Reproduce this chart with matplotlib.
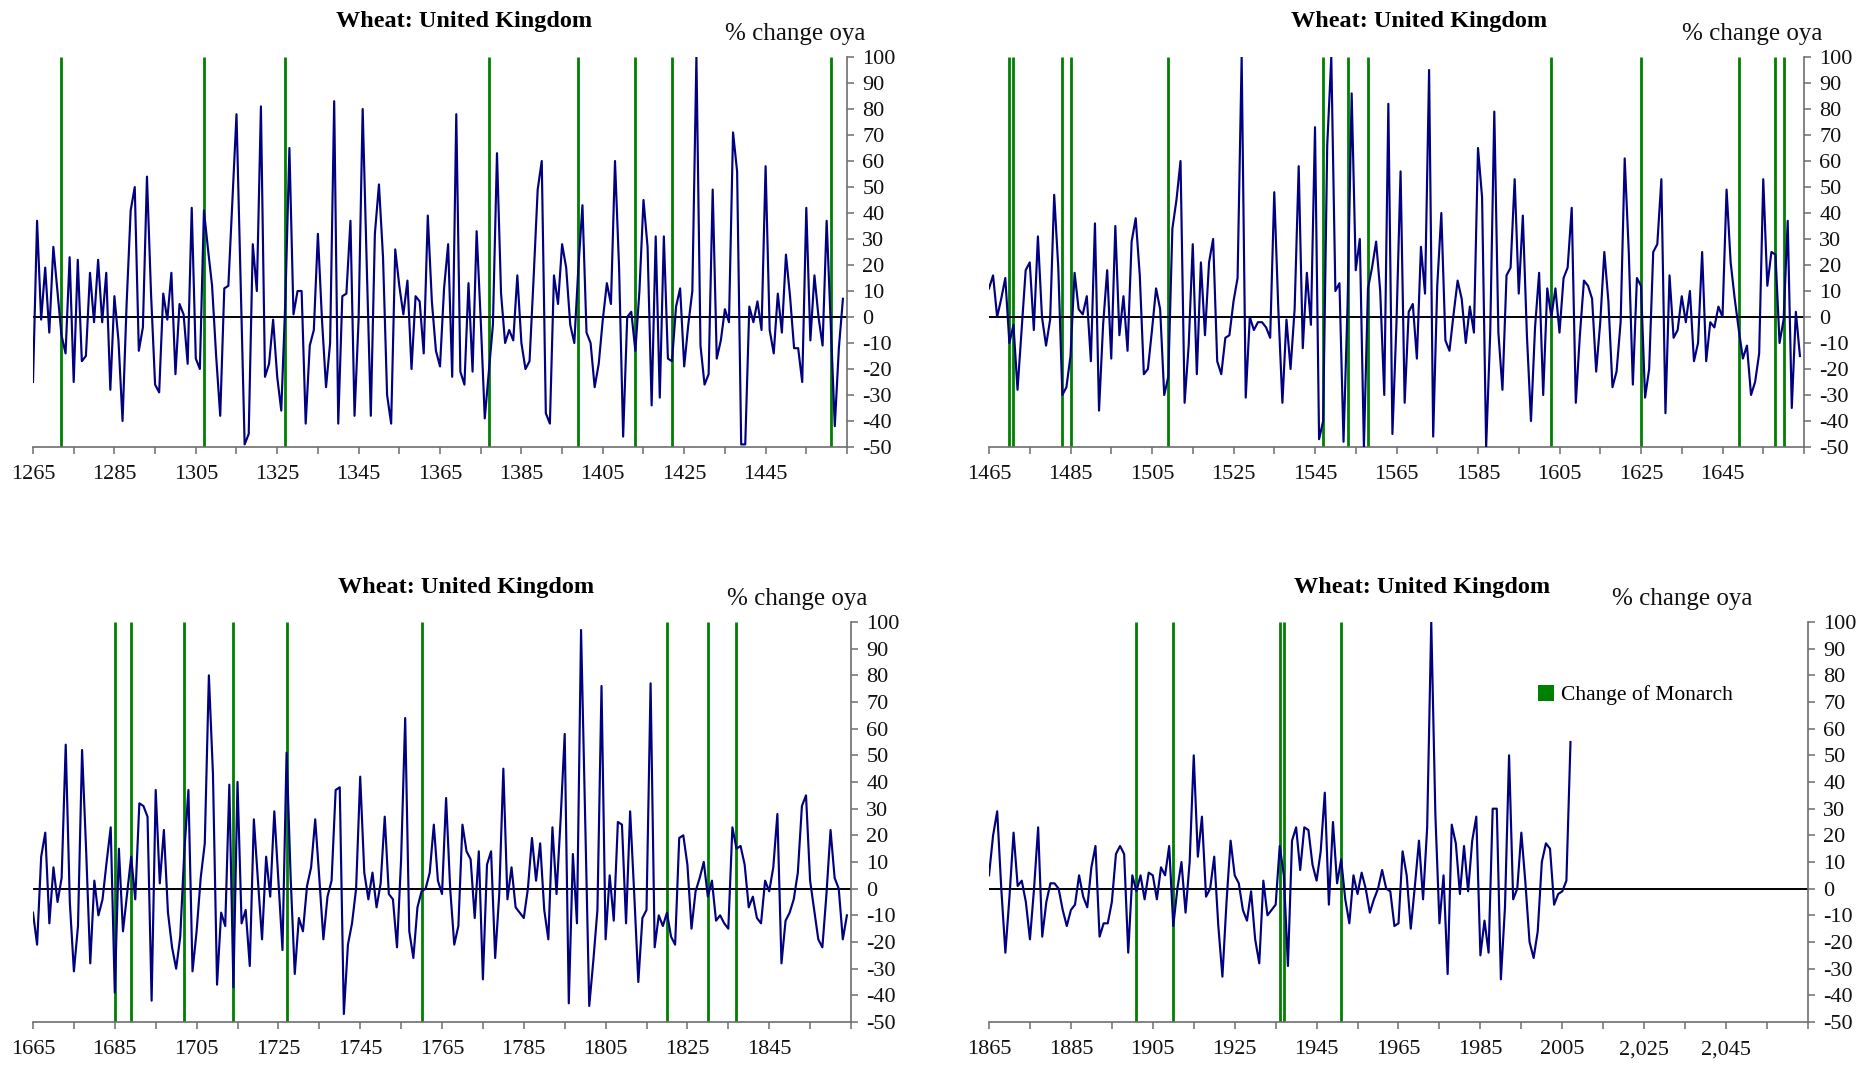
import numpy as np
import matplotlib.pyplot as plt
from matplotlib.patches import Patch

plt.rcParams['font.family'] = ['Liberation Serif', 'DejaVu Serif']
plt.rcParams['axes.unicode_minus'] = False

# wheat price, % change over year ago, one value per year
start1 = 1265
pct1 = [-25, 37, -1, 19, -6, 27, 10, -7, -14, 23, -25, 22, -17, -15, 17, -2, 22, -2, 17, -28,
        8, -9, -40, 5, 41, 50, -13, -4, 54, 9, -26, -29, 9, -1, 17, -22, 5, 1, -18, 42,
        -16, -20, 41, 26, 12, -15, -38, 11, 12, 45, 78, 15, -49, -45, 28, 10, 81, -23, -18, -1,
        -23, -36, 6, 65, 1, 10, 10, -41, -11, -5, 32, -1, -27, -10, 83, -41, 8, 9, 37, -38,
        -1, 80, 20, -38, 32, 51, 23, -30, -41, 26, 12, 1, 14, -20, 8, 6, -14, 39, 6, -13,
        -19, 11, 28, -23, 78, -21, -26, 13, -21, 33, -1, -39, -21, -3, 63, 9, -10, -5, -9, 16,
        -10, -20, -17, 15, 49, 60, -37, -41, 16, 5, 28, 19, -3, -10, 19, 43, -6, -10, -27, -18,
        -1, 13, 5, 60, 19, -46, 0, 2, -13, 10, 45, 27, -34, 31, -31, 31, -16, -17, 4, 11,
        -19, -3, 10, 100, -11, -26, -22, 49, -16, -9, 3, -2, 71, 56, -49, -49, 4, -2, 6, -5,
        58, -5, -14, 9, -6, 24, 8, -12, -12, -25, 42, -9, 16, 0, -11, 37, -2, -42, -12, 7]

start2 = 1465
pct2 = [11, 16, 0, 7, 15, -10, -3, -28, -5, 18, 21, -5, 31, 0, -11, -1, 47, 19, -30, -27,
        -15, 17, 3, 1, 8, -17, 36, -36, -3, 18, -16, 35, -7, 8, -13, 29, 38, 16, -22, -20,
        -5, 11, 3, -30, -23, 34, 45, 60, -33, -11, 28, -22, 21, -7, 21, 30, -17, -22, -8, -7,
        6, 15, 100, -31, 0, -5, -2, -2, -4, -8, 48, 3, -33, -1, -20, 3, 58, -12, 17, -3,
        73, -47, -40, 66, 100, 10, 13, -48, 5, 86, 18, 30, -50, 11, 19, 29, 10, -30, 82, -45,
        -2, 56, -33, 2, 5, -16, 27, 9, 95, -46, 12, 40, -9, -13, 1, 14, 7, -10, 4, -6,
        65, 46, -50, -6, 79, -6, -28, 16, 19, 53, 9, 39, -7, -40, -4, 17, -30, 11, 0, 11,
        -6, 15, 19, 42, -33, -7, 14, 12, 7, -21, -2, 25, 6, -27, -21, -2, 61, 25, -26, 15,
        12, -31, -20, 25, 28, 53, -37, 16, -8, -5, 8, -2, 10, -17, -10, 25, -17, -2, -4, 4,
        0, 49, 21, 7, -5, -16, -11, -30, -25, -14, 53, 12, 25, 24, -10, -1, 37, -35, 2, -15]

start3 = 1665
pct3 = [-9, -21, 12, 21, -13, 8, -5, 4, 54, -5, -31, -14, 52, 14, -28, 3, -10, -4, 10, 23,
        -39, 15, -16, -2, 12, -4, 32, 31, 27, -42, 37, 2, 22, -9, -22, -30, -18, 14, 37, -31,
        -16, 4, 17, 80, 43, -36, -9, -14, 39, -37, 40, -13, -8, -29, 26, 3, -19, 12, -3, 29,
        3, -23, 51, 4, -32, -11, -16, 1, 8, 26, 4, -19, -3, 3, 37, 38, -47, -21, -13, 0,
        42, 6, -4, 6, -7, 2, 27, -2, -4, -22, 11, 64, -16, -26, -7, -1, 0, 6, 24, 3,
        -2, 34, 0, -21, -14, 24, 14, 11, -11, 14, -34, 9, 14, -26, -2, 45, -4, 8, -7, -9,
        -11, 0, 19, 3, 17, -8, -19, 23, -2, 26, 58, -43, 13, -13, 97, 26, -44, -27, -8, 76,
        -19, 5, -12, 25, 24, -13, 29, -2, -35, -11, -8, 77, -22, -10, -14, -9, -18, -21, 19, 20,
        9, -15, -1, 4, 10, -3, 3, -12, -10, -13, -15, 23, 15, 16, 9, -7, -3, -11, -13, 3,
        -1, 8, 28, -28, -12, -9, -4, 6, 31, 35, 3, -8, -19, -22, -2, 22, 4, 0, -19, -10]

start4 = 1865
pct4 = [5, 20, 29, 0, -24, -3, 21, 1, 3, -5, -19, 0, 23, -18, -5, 2, 2, 0, -8, -14,
        -8, -6, 5, -3, -7, 8, 16, -18, -13, -13, -5, 13, 16, 13, -24, 5, -1, 5, -4, 6,
        5, -4, 8, 5, 16, -14, 0, 10, -9, 10, 50, 12, 27, -3, 0, 12, -14, -33, -5, 18,
        5, 2, -8, -12, -1, -19, -28, 3, -10, -8, -6, 16, 5, -29, 18, 23, 7, 23, 22, 9,
        3, 14, 36, -6, 25, 2, 11, -4, -13, 5, -2, 6, 0, -9, -4, 0, 7, 0, -1, -14,
        -13, 14, 5, -15, 1, 18, -4, 23, 100, 28, -13, 5, -32, 24, 17, -2, 16, -1, 18, 27,
        -25, -12, -24, 30, 30, -34, -7, 50, -4, 0, 21, 2, -20, -26, -16, 10, 17, 15, -6, -2,
        -1, 3, 55]

# years with a change of monarch
monarch1 = [1272, 1307, 1327, 1377, 1399, 1413, 1422, 1461]
monarch2 = [1470, 1471, 1483, 1485, 1509, 1547, 1553, 1558, 1603, 1625, 1649, 1658, 1660]
monarch3 = [1685, 1689, 1702, 1714, 1727, 1760, 1820, 1830, 1837]
monarch4 = [1901, 1910, 1936, 1937, 1951]

xlabels4 = ['1865', '1885', '1905', '1925', '1945', '1965', '1985', '2005', '2,025', '2,045']

W, H = 1876, 1065
fig = plt.figure(figsize=(W / 100, H / 100), dpi=100)


def panel(rect, start, pct, monarch, labels, title_xy, unit_xy):
    left, top, right, bottom = rect
    ax = fig.add_axes([left / W, 1 - bottom / H, (right - left) / W, (bottom - top) / H])
    years = start + np.arange(len(pct))
    ax.vlines(monarch, -50, 100, color='#008000', lw=2.0, zorder=1)
    ax.axhline(0, color='black', lw=1.4, zorder=2)
    ax.plot(years, pct, color='#000080', lw=1.55, zorder=3)

    ax.set_xlim(start, start + 200)
    ax.set_ylim(-50, 100)
    ax.set_xticks(np.arange(start, start + 201, 10))
    if labels is None:
        labels = [str(t) for t in range(start, start + 200, 20)]
    ticklabels = [''] * 21
    ticklabels[0:2 * len(labels):2] = labels
    ax.set_xticklabels(ticklabels)
    ax.set_yticks(np.arange(-50, 101, 10))
    ax.yaxis.tick_right()

    for s in ['left', 'top']:
        ax.spines[s].set_visible(False)
    for s in ['bottom', 'right']:
        ax.spines[s].set_color('#6e6e6e')
        ax.spines[s].set_linewidth(1.2)
    ax.tick_params(axis='both', direction='out', length=5, width=1.1, color='#6e6e6e',
                   labelsize=16, labelcolor='#111111')
    ax.tick_params(axis='x', pad=8)
    ax.tick_params(axis='y', pad=6)

    fig.text(title_xy[0] / W, 1 - title_xy[1] / H, 'Wheat: United Kingdom',
             ha='center', va='center', fontsize=17.5, fontweight='bold')
    fig.text(unit_xy[0] / W, 1 - unit_xy[1] / H, '% change oya',
             ha='center', va='center', fontsize=18, color='#111111')
    return ax


panel((33, 57, 847, 447), start1, pct1, monarch1, None, (464, 22), (795, 34))
panel((989, 57, 1804, 447), start2, pct2, monarch2, None, (1419, 22), (1752, 34))
panel((33, 622, 851, 1022), start3, pct3, monarch3, None, (466, 587), (797, 599))
ax4 = panel((989, 622, 1808, 1022), start4, pct4, monarch4, xlabels4, (1422, 587), (1682, 599))

ax4.legend(handles=[Patch(facecolor='#008000', edgecolor='none')], labels=['Change of Monarch'],
           loc='center left', bbox_to_anchor=(1538 / W, 1 - 695 / H), bbox_transform=fig.transFigure,
           frameon=False, fontsize=15.5, handlelength=0.75, handleheight=0.75,
           handletextpad=0.3, borderpad=0, borderaxespad=0)

fig.savefig('out.png', dpi=100)
